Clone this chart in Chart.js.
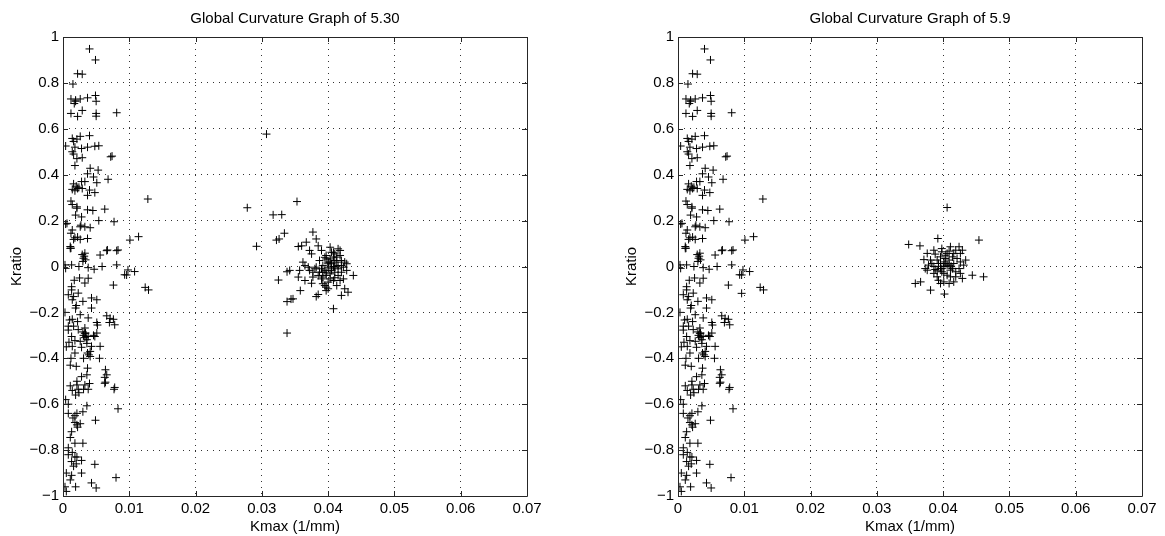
<!DOCTYPE html>
<html>
<head>
<meta charset="utf-8">
<script src="https://cdn.jsdelivr.net/npm/chart.js@4"></script>
<style>
    body { margin: 0; background: #fff; width: 1165px; height: 536px; overflow: hidden; position: relative; }
    canvas { position: absolute; top: 0; }
    #c1 { left: 0; }
    #c2 { left: 615px; }
</style>
</head>
<body>
<canvas id="c1" width="590" height="536"></canvas>
<canvas id="c2" width="550" height="536"></canvas>
<script>
// tick labels
const xTicks = [0, 0.01, 0.02, 0.03, 0.04, 0.05, 0.06, 0.07];
const yTicks = [-1, -0.8, -0.6, -0.4, -0.2, 0, 0.2, 0.4, 0.6, 0.8, 1];

// low curvature group, the same in both graphs
const nearKmax = [
    0.0040, 0.0049, 0.0022, 0.0029, 0.0015, 0.0012, 0.0017, 0.0019, 0.0026, 0.0037,
    0.0049, 0.0050, 0.0012, 0.0022, 0.0029, 0.0050, 0.0050, 0.0081, 0.0004, 0.0014,
    0.0026, 0.0040, 0.0018, 0.0028, 0.0037, 0.0048, 0.0054, 0.0014, 0.0016, 0.0021,
    0.0029, 0.0074, 0.0072, 0.0018, 0.0041, 0.0053, 0.0037, 0.0033, 0.0046, 0.0068,
    0.0051, 0.0016, 0.0024, 0.0014, 0.0029, 0.0040, 0.0048, 0.0037, 0.0128, 0.0012,
    0.0014, 0.0021, 0.0037, 0.0045, 0.0063, 0.0019, 0.0028, 0.0054, 0.0077, 0.0004,
    0.0026, 0.0033, 0.0041, 0.0014, 0.0012, 0.0016, 0.0026, 0.0037, 0.0101, 0.0114,
    0.0011, 0.0012, 0.0033, 0.0056, 0.0067, 0.0083, 0.0031, 0.0034, 0.0081, 0.0013,
    0.0004, 0.0024, 0.0038, 0.0047, 0.0059, 0.0098, 0.0108, 0.0093, 0.0006, 0.0011,
    0.0066, 0.0081, 0.0003, 0.0096,
    0.0076, 0.0124, 0.0129, 0.0013, 0.0008, 0.0023, 0.0033, 0.0038, 0.0043, 0.0051,
    0.0014, 0.0030, 0.0019, 0.0043, 0.0026, 0.0003, 0.0014, 0.0038, 0.0066, 0.0076,
    0.0070, 0.0078, 0.0051, 0.0008, 0.0023, 0.0033, 0.0034, 0.0038, 0.0046, 0.0051,
    0.0013, 0.0026, 0.0036, 0.0014, 0.0028, 0.0043, 0.0056, 0.0005, 0.0018, 0.0037,
    0.0041, 0.0055, 0.0031, 0.0011, 0.0020, 0.0037, 0.0064, 0.0028, 0.0036, 0.0066,
    0.0064, 0.0011, 0.0021, 0.0033, 0.0040, 0.0078, 0.0014, 0.0023, 0.0031, 0.0038,
    0.0004, 0.0008, 0.0036, 0.0083, 0.0021, 0.0008, 0.0018, 0.0030, 0.0049, 0.0018,
    0.0021, 0.0026, 0.0013, 0.0011, 0.0018, 0.0030, 0.0008, 0.0014, 0.0018, 0.0008,
    0.0021, 0.0013, 0.0028, 0.0048, 0.0080, 0.0005, 0.0013, 0.0028, 0.0011, 0.0003,
    0.0019, 0.0043, 0.0050, 0.0005, 0.0063, 0.0063, 0.0077, 0.0071, 0.0052, 0.0013,
    0.0016, 0.0010, 0.0008, 0.0033, 0.0035, 0.0048, 0.0018,
    0.0031, 0.0033, 0.0030, 0.0036, 0.0039, 0.0041, 0.0029, 0.0032, 0.0030, 0.0018,
    0.0022, 0.0027, 0.0021, 0.0018, 0.0022, 0.0020, 0.0028, 0.0016, 0.0021, 0.0019,
    0.0017, 0.0025, 0.0020, 0.0016, 0.0022, 0.0019, 0.0024, 0.0015, 0.0022, 0.0020,
    0.0016, 0.0021, 0.0012, 0.0009
];
const nearKratio = [
    0.948, 0.900, 0.840, 0.838, 0.795, 0.730, 0.710, 0.720, 0.730, 0.735,
    0.745, 0.720, 0.667, 0.654, 0.680, 0.667, 0.655, 0.670, 0.525, 0.558,
    0.567, 0.570, 0.520, 0.514, 0.520, 0.524, 0.526, 0.500, 0.490, 0.470,
    0.474, 0.481, 0.478, 0.440, 0.428, 0.420, 0.404, 0.370, 0.390, 0.380,
    0.365, 0.360, 0.345, 0.336, 0.340, 0.333, 0.322, 0.310, 0.294, 0.285,
    0.270, 0.254, 0.247, 0.244, 0.250, 0.224, 0.216, 0.200, 0.195, 0.185,
    0.173, 0.173, 0.169, 0.159, 0.145, 0.118, 0.118, 0.122, 0.115, 0.130,
    0.087, 0.080, 0.058, 0.050, 0.072, 0.072, 0.036, 0.029, 0.007, 0.007,
    -0.008, 0.000, -0.005, -0.012, 0.000, -0.015, -0.022, -0.036, 0.188, 0.079,
    0.069, 0.069, 0.007, -0.037,
    -0.081, -0.091, -0.102, -0.088, -0.123, -0.116, -0.072, -0.051, -0.137, -0.145,
    -0.145, -0.152, -0.181, -0.181, -0.210, -0.200, -0.230, -0.224, -0.215, -0.230,
    -0.244, -0.254, -0.244, -0.260, -0.275, -0.268, -0.290, -0.305, -0.300, -0.290,
    -0.305, -0.326, -0.319, -0.348, -0.352, -0.348, -0.348, -0.350, -0.377, -0.377,
    -0.370, -0.400, -0.400, -0.430, -0.435, -0.443, -0.450, -0.480, -0.472, -0.472,
    -0.504, -0.520, -0.516, -0.516, -0.510, -0.527, -0.540, -0.535, -0.535, -0.535,
    -0.580, -0.600, -0.607, -0.620, -0.640, -0.640, -0.650, -0.633, -0.670, -0.680,
    -0.690, -0.685, -0.720, -0.745, -0.770, -0.770, -0.790, -0.810, -0.830, -0.820,
    -0.830, -0.850, -0.845, -0.862, -0.920, -0.900, -0.910, -0.900, -0.930, -0.960,
    -0.960, -0.943, -0.965, -0.980, -0.509, -0.483, -0.535, -0.226, -0.255, -0.102,
    -0.131, -0.233, -0.277, -0.291, -0.305, -0.305, -0.323,
    -0.300, -0.310, -0.285, -0.335, -0.385, -0.392, 0.052, 0.045, 0.022, 0.125,
    0.128, 0.180, 0.260, 0.330, 0.340, 0.350, 0.370, 0.545, 0.555, 0.725,
    -0.060, -0.050, -0.170, -0.260, -0.240, -0.560, -0.550, -0.660, -0.700, -0.860,
    -0.870, -0.500, -0.400, -0.330
];

// high curvature group of 5.30
const farKmax530 = [
    0.0307, 0.0278, 0.0317, 0.0330, 0.0353, 0.0292, 0.0322, 0.0326, 0.0334, 0.0325,
    0.0338, 0.0338, 0.0344, 0.0338, 0.0377, 0.0382, 0.0367, 0.0355, 0.0360, 0.0372,
    0.0375, 0.0385, 0.0390, 0.0403, 0.0415, 0.0408, 0.0418, 0.0395, 0.0403, 0.0410,
    0.0420, 0.0428, 0.0362, 0.0365, 0.0382, 0.0392, 0.0400, 0.0408, 0.0415, 0.0342,
    0.0357, 0.0372, 0.0387, 0.0397, 0.0405, 0.0420, 0.0438, 0.0355, 0.0377, 0.0392,
    0.0410, 0.0423, 0.0365, 0.0375, 0.0392, 0.0397, 0.0395, 0.0413, 0.0425, 0.0430,
    0.0420, 0.0358, 0.0347, 0.0382, 0.0385, 0.0408, 0.0400, 0.0405, 0.0395, 0.0403,
    0.0410, 0.0390, 0.0415, 0.0387, 0.0397, 0.0405, 0.0413, 0.0423, 0.0428, 0.0380,
    0.0408, 0.0418, 0.0400,
    0.0397, 0.0403, 0.0408, 0.0413, 0.0400, 0.0405, 0.0410, 0.0415, 0.0397, 0.0403,
    0.0392, 0.0390, 0.0420, 0.0425, 0.0418, 0.0410, 0.0400, 0.0397, 0.0385, 0.0377,
    0.0370
];
const farKratio530 = [
    0.577, 0.256, 0.225, 0.226, 0.283, 0.088, 0.115, 0.120, 0.145, -0.059,
    -0.023, -0.153, -0.142, -0.290, 0.150, 0.120, 0.106, 0.087, 0.090, 0.070,
    0.055, 0.090, 0.070, 0.084, 0.077, 0.062, 0.048, 0.040, 0.033, 0.026,
    0.026, 0.012, 0.019, 0.004, -0.003, 0.004, -0.003, 0.000, -0.010, -0.017,
    -0.017, -0.017, -0.025, -0.025, -0.017, -0.025, -0.039, -0.046, -0.046, -0.046,
    -0.049, -0.054, -0.061, -0.073, -0.075, -0.090, -0.083, -0.083, -0.097, -0.112,
    -0.126, -0.105, -0.141, -0.131, -0.122, -0.184, 0.019, 0.012, -0.017, -0.032,
    -0.025, -0.054, -0.039, 0.026, 0.048, 0.062, 0.041, -0.003, -0.017, -0.010,
    -0.061, -0.061, -0.068,
    0.033, 0.019, 0.041, 0.019, 0.012, -0.010, -0.003, 0.004, -0.039, -0.054,
    -0.025, -0.010, 0.004, 0.019, 0.070, 0.055, -0.097, -0.105, -0.039, -0.025,
    -0.003
];

// high curvature group of 5.9 (first point is a lone extra near 0.01)
const farKmax59 = [
    0.0096, 0.0406, 0.0348, 0.0365, 0.0392, 0.0454, 0.0461, 0.0444, 0.0358, 0.0366,
    0.0381, 0.0402, 0.0396, 0.0409, 0.0371, 0.0376, 0.0386, 0.0398, 0.0411, 0.0424,
    0.0426, 0.0419, 0.0378, 0.0373, 0.0386, 0.0393, 0.0401, 0.0409, 0.0416, 0.0431,
    0.0424, 0.0411, 0.0398, 0.0386, 0.0391, 0.0406, 0.0419, 0.0426, 0.0404, 0.0396,
    0.0414, 0.0391, 0.0406, 0.0401, 0.0398, 0.0403, 0.0381, 0.0421, 0.0434, 0.0429,
    0.0393, 0.0416, 0.0388, 0.0409, 0.0396, 0.0412, 0.0391,
    0.0396, 0.0403, 0.0409, 0.0414, 0.0401, 0.0393, 0.0388, 0.0419, 0.0406, 0.0398,
    0.0416, 0.0426, 0.0383, 0.0376, 0.0411, 0.0401, 0.0429
];
const farKratio59 = [
    -0.117, 0.257, 0.096, 0.090, 0.122, 0.115, -0.045, -0.038, -0.074, -0.067,
    -0.103, -0.120, -0.074, -0.074, 0.030, 0.057, 0.071, 0.078, 0.086, 0.086,
    0.057, 0.071, 0.006, -0.009, 0.000, 0.013, 0.020, 0.028, 0.013, 0.006,
    -0.009, -0.016, -0.023, -0.030, -0.045, -0.038, -0.045, -0.030, 0.049, 0.042,
    0.042, 0.028, 0.006, 0.000, -0.009, 0.013, 0.028, 0.035, 0.028, -0.052,
    -0.060, -0.067, 0.054, 0.067, -0.009, 0.001, -0.019,
    0.013, 0.035, 0.006, -0.009, -0.030, 0.001, -0.013, -0.023, 0.057, 0.064,
    0.057, 0.020, 0.013, -0.016, -0.045, -0.067, 0.071
];

Chart.defaults.font.family = "'Liberation Sans', Arial, Helvetica, sans-serif";
Chart.defaults.font.size = 15;
Chart.defaults.color = '#000';

const axisColor = '#262626';

// closed box with small inward ticks, like the original plots
const boxPlugin = {
    id: 'box',
    afterDatasetsDraw(chart) {
        const ctx = chart.ctx;
        const a = chart.chartArea;
        const xs = chart.scales.x;
        const ys = chart.scales.y;
        ctx.save();
        ctx.strokeStyle = axisColor;
        ctx.lineWidth = 1;
        ctx.beginPath();
        ctx.rect(Math.round(a.left) + 0.5, Math.round(a.top) + 0.5,
                 Math.round(a.right - a.left), Math.round(a.bottom - a.top));
        xTicks.forEach(v => {
            const px = Math.round(xs.getPixelForValue(v)) + 0.5;
            ctx.moveTo(px, a.bottom); ctx.lineTo(px, a.bottom - 5);
            ctx.moveTo(px, a.top); ctx.lineTo(px, a.top + 5);
        });
        yTicks.forEach(v => {
            const py = Math.round(ys.getPixelForValue(v)) + 0.5;
            ctx.moveTo(a.left, py); ctx.lineTo(a.left + 5, py);
            ctx.moveTo(a.right, py); ctx.lineTo(a.right - 5, py);
        });
        ctx.stroke();
        ctx.restore();
    }
};

function fmt(v) {
    return v < 0 ? '\u2212' + Math.abs(v) : String(v);
}

function makeChart(id, title, xs, ys, padRight) {
    const points = xs.map((x, i) => ({ x: x, y: ys[i] }));
    return new Chart(document.getElementById(id), {
        type: 'scatter',
        data: {
            datasets: [{
                data: points,
                pointStyle: 'cross',
                pointRadius: 4,
                pointHoverRadius: 4,
                borderColor: '#000',
                backgroundColor: '#000',
                borderWidth: 1
            }]
        },
        options: {
            responsive: false,
            animation: false,
            events: [],
            layout: { padding: { left: 0, right: padRight, top: 0, bottom: 0 } },
            plugins: {
                legend: { display: false },
                tooltip: { enabled: false },
                title: {
                    display: true,
                    text: title,
                    fullSize: false,
                    color: '#000',
                    font: { size: 15, weight: 'normal' },
                    padding: { top: 10, bottom: 9 }
                }
            },
            scales: {
                x: {
                    type: 'linear',
                    min: 0,
                    max: 0.07,
                    afterBuildTicks: s => { s.ticks = xTicks.map(v => ({ value: v })); },
                    afterFit: s => { s.height = 40; },
                    ticks: { autoSkip: false, maxRotation: 0, padding: 4, callback: v => fmt(v) },
                    grid: { color: '#333', drawTicks: false },
                    border: { display: false, dash: [1, 5] },
                    title: { display: true, text: 'Kmax (1/mm)', padding: { top: 0, bottom: 0 } }
                },
                y: {
                    type: 'linear',
                    min: -1,
                    max: 1,
                    afterBuildTicks: s => { s.ticks = yTicks.map(v => ({ value: v })); },
                    afterFit: s => { s.width = 63; },
                    ticks: { autoSkip: false, padding: 4, callback: v => fmt(v) },
                    grid: { color: '#333', drawTicks: false },
                    border: { display: false, dash: [1, 5] },
                    title: { display: true, text: 'Kratio', padding: { top: 8, bottom: 0 } }
                }
            }
        },
        plugins: [boxPlugin]
    });
}

makeChart('c1', 'Global Curvature Graph of 5.30',
    nearKmax.concat(farKmax530), nearKratio.concat(farKratio530), 63);
makeChart('c2', 'Global Curvature Graph of 5.9',
    nearKmax.concat(farKmax59), nearKratio.concat(farKratio59), 23);
</script>
</body>
</html>
